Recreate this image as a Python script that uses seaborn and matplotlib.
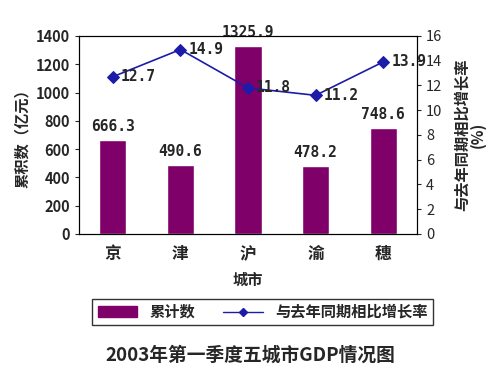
import pandas as pd
import seaborn as sns
import matplotlib.pyplot as plt
from matplotlib.lines import Line2D
from matplotlib.patches import Patch

cities = ['京', '津', '沪', '渝', '穗']
gdp = [666.3, 490.6, 1325.9, 478.2, 748.6]
growth = [12.7, 14.9, 11.8, 11.2, 13.9]

bar_color = '#80006a'
line_color = '#1c1ca8'


def make_chart():
    sns.set_style('ticks')
    plt.rcParams['font.family'] = ['Noto Sans CJK SC', 'DejaVu Sans']

    df = pd.DataFrame({'城市': cities, '累计数': gdp, '增长率': growth})

    fig = plt.figure(figsize=(5, 3.78), dpi=100)
    ax = fig.add_axes([0.158, 0.381, 0.676, 0.524])
    sns.barplot(data=df, x='城市', y='累计数', color=bar_color, width=0.4,
                saturation=1, ax=ax)
    ax.set_ylim(0, 1400)
    ax.set_yticks(range(0, 1401, 200))
    ax.set_xlim(-0.5, 4.5)
    for i, v in enumerate(gdp):
        ax.text(i, v + 95, f'{v:.1f}', ha='center', va='center', fontsize=10.5,
                family='DejaVu Sans Mono', fontweight='bold')

    ax2 = ax.twinx()
    sns.lineplot(x=list(range(len(cities))), y=growth, color=line_color, marker='D',
                 markersize=6, markeredgecolor=line_color, linewidth=1.2, ax=ax2)
    ax2.set_ylim(0, 16)
    ax2.set_yticks(range(0, 17, 2))
    for i, v in enumerate(growth):
        ax2.text(i + 0.12, v, f'{v:.1f}', ha='left', va='center', fontsize=10.5,
                 family='DejaVu Sans Mono', fontweight='bold')

    ax.set_xlabel('城市', fontsize=11, fontweight='bold', labelpad=6)
    ax.set_ylabel('累积数（亿元）', fontsize=11, fontweight='bold', labelpad=4)
    ax2.set_ylabel('与去年同期相比增长率\n(%)', fontsize=11, fontweight='bold',
                   rotation=90, labelpad=8, linespacing=1.0)
    ax.set_xticks([0, 1, 2, 3, 4])
    ax.set_xticklabels(cities, fontweight='bold', fontsize=12)
    ax.tick_params(axis='x', length=0, pad=8)
    ax.tick_params(axis='y', labelsize=10.5, length=3)
    ax2.tick_params(axis='y', labelsize=10.5, length=3)
    for t in ax.get_yticklabels():
        t.set_fontweight('bold')
    for sp in ['top', 'right', 'left', 'bottom']:
        ax.spines[sp].set_visible(True)
        ax.spines[sp].set_color('black')
        ax2.spines[sp].set_color('black')

    handles = [Patch(facecolor=bar_color, edgecolor=bar_color),
               Line2D([0], [0], color=line_color, marker='D', markersize=4, linewidth=1)]
    fig.legend(handles, ['累计数', '与去年同期相比增长率'], loc='center',
               bbox_to_anchor=(0.525, 0.175), ncol=2, frameon=True, fancybox=False,
               edgecolor='black', prop={'weight': 'bold', 'size': 11},
               handlelength=2.6, columnspacing=1.8, borderpad=0.35)

    fig.text(0.5, 0.06, '2003年第一季度五城市GDP情况图', ha='center', va='center',
             fontsize=13.5, fontweight='bold')

    plt.savefig('out.png', dpi=100)


if __name__ == "__main__":
    make_chart()
